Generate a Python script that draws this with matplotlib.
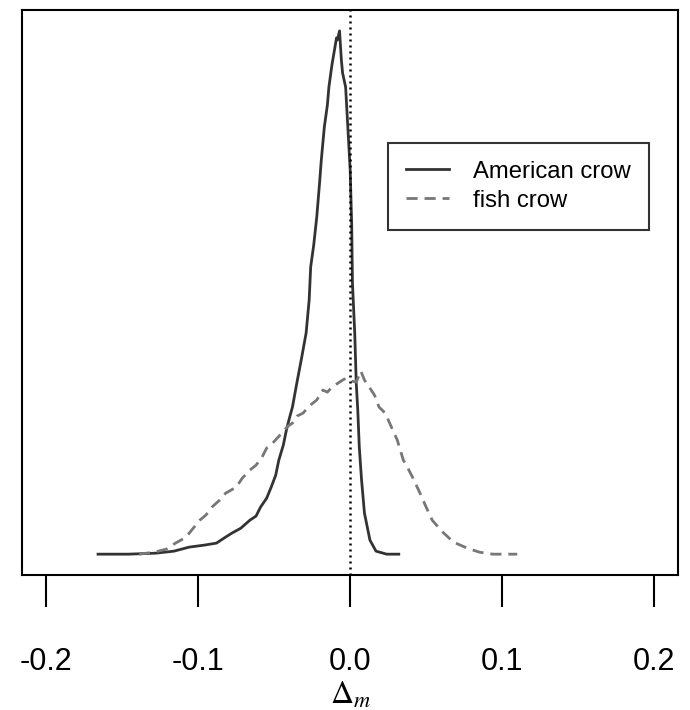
import matplotlib
matplotlib.use("Agg")
import matplotlib.pyplot as plt

# density curves (x = Delta_m, y = density)
american_x = [-0.166, -0.146, -0.128, -0.116, -0.106, -0.096, -0.088, -0.083, -0.078,
              -0.072, -0.066, -0.062, -0.059, -0.055, -0.052, -0.049, -0.047, -0.044,
              -0.042, -0.040, -0.038, -0.035, -0.032, -0.029, -0.027, -0.026, -0.024,
              -0.022, -0.020, -0.019, -0.017, -0.015, -0.014, -0.012, -0.010, -0.009,
              -0.0084, -0.007, -0.0058, -0.005, -0.003, -0.0018, 0.000, 0.001, 0.0015,
              0.003, 0.004, 0.005, 0.006, 0.0075, 0.0094, 0.013, 0.017, 0.024, 0.032]
american_y = [0.00, 0.00, 0.05, 0.15, 0.35, 0.45, 0.55, 0.80, 1.04,
              1.29, 1.69, 1.89, 2.34, 2.78, 3.33, 3.93, 4.67, 5.42,
              6.16, 6.76, 7.31, 8.55, 9.74, 10.99, 12.63, 14.27, 15.36,
              16.75, 18.59, 19.59, 21.23, 22.32, 23.21, 24.31, 25.20, 25.65,
              25.55, 26.00, 24.56, 23.91, 23.21, 21.57, 19.09, 16.35, 13.47,
              10.99, 8.50, 7.16, 5.32, 3.68, 2.04, 0.70, 0.15, 0.00, 0.00]

fish_x = [-0.139, -0.129, -0.121, -0.115, -0.109, -0.106, -0.099, -0.095, -0.091,
          -0.086, -0.082, -0.075, -0.071, -0.066, -0.062, -0.058, -0.055, -0.051,
          -0.048, -0.045, -0.041, -0.038, -0.035, -0.031, -0.027, -0.022, -0.018,
          -0.015, -0.012, -0.008, -0.005, -0.0024, 0.001, 0.004, 0.007, 0.0094,
          0.013, 0.016, 0.019, 0.023, 0.026, 0.031, 0.035, 0.038, 0.041, 0.046,
          0.050, 0.054, 0.061, 0.068, 0.077, 0.085, 0.094, 0.110]
fish_y = [0.00, 0.10, 0.25, 0.55, 0.80, 1.04, 1.69, 1.94, 2.34,
          2.68, 3.03, 3.33, 3.78, 4.18, 4.42, 4.82, 5.27, 5.52,
          5.77, 6.01, 6.36, 6.51, 6.86, 7.01, 7.36, 7.66, 8.15,
          8.05, 8.30, 8.50, 8.65, 8.75, 8.60, 8.55, 9.10, 8.65,
          8.25, 7.90, 7.31, 7.01, 6.51, 5.67, 4.67, 4.27, 3.83, 3.03,
          2.34, 1.69, 1.09, 0.60, 0.30, 0.10, 0.00, 0.00]

xticks = [-0.2, -0.1, 0.0, 0.1, 0.2]
xtick_labels = ["-0.2", "-0.1", "0.0", "0.1", "0.2"]

plt.rcParams["font.family"] = ["Liberation Sans", "DejaVu Sans"]
plt.rcParams["mathtext.fontset"] = "stix"

fig = plt.figure(figsize=(6.9, 7.1), dpi=100)
ax = fig.add_axes([0.032, 0.190, 0.951, 0.796])

ax.plot(american_x, american_y, color="#333333", lw=2.0, label="American crow")
ax.plot(fish_x, fish_y, color="#777777", lw=2.0, linestyle=(0, (4, 2.5)), label="fish crow")
ax.axvline(0, color="black", lw=1.8, linestyle=(0, (0.8, 1.6)))

# R-style 4% padding
ymax = max(american_y)
ax.set_xlim(-0.2 - 0.016, 0.2 + 0.016)
ax.set_ylim(-0.04 * ymax, ymax * 1.04)

ax.set_yticks([])
ax.set_xticks(xticks)
ax.set_xticklabels(xtick_labels, fontsize=22)
ax.tick_params(axis="x", direction="out", length=23, width=1.5, pad=29)
for s in ax.spines.values():
    s.set_linewidth(1.5)
    s.set_color("black")

ax.set_xlabel(r"$\Delta_m$", fontsize=23, va="top")
ax.xaxis.set_label_coords(0.5, -0.186)

leg = ax.legend(loc="upper left", bbox_to_anchor=(0.558, 0.765), fontsize=17.2,
                frameon=True, fancybox=False, shadow=False, handlelength=1.8,
                handletextpad=1.0, borderpad=0.75, labelspacing=0.3,
                borderaxespad=0)
leg.get_frame().set_edgecolor("black")
leg.get_frame().set_linewidth(1.5)

fig.savefig("out.png", dpi=100)
